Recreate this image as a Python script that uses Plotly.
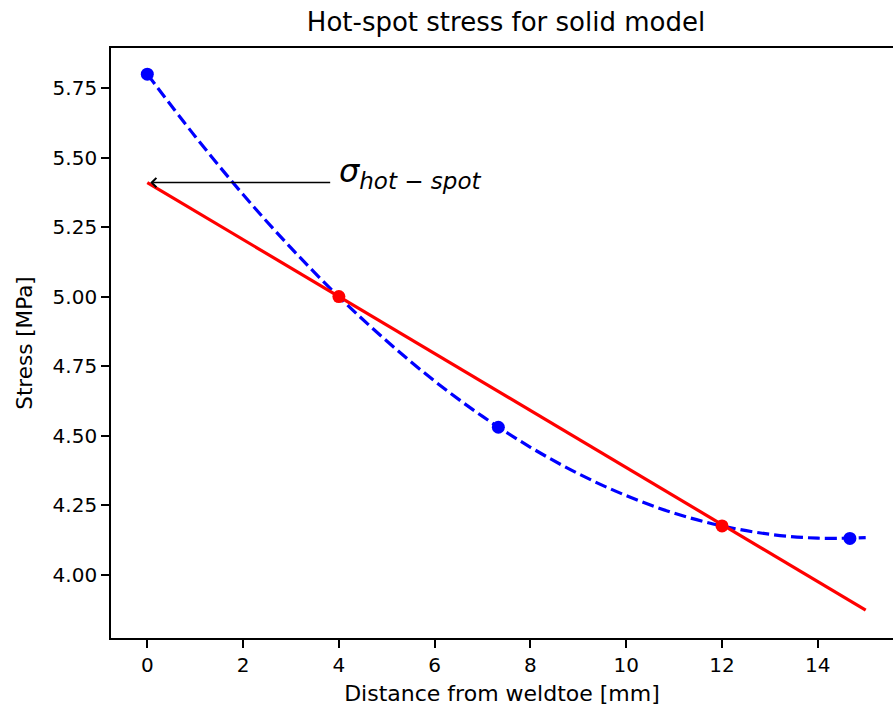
import plotly.graph_objects as go

# Measured stress points (blue) from the solid model
meas_x = [0.0, 7.33, 14.67]
meas_y = [5.80, 4.53, 4.13]

curve_x = [0, 1, 2, 3, 4, 5, 6, 7, 8, 9, 10, 11, 12, 13, 14, 15]
curve_y = [5.800, 5.576, 5.367, 5.175, 4.999, 4.840, 4.696, 4.569,
           4.458, 4.363, 4.284, 4.221, 4.175, 4.145, 4.131, 4.133]

# Reference (read-out) points at 0.4t and 1.0t (red)
ref_x = [4.0, 12.0]
ref_y = [5.00, 4.175]

# Linear extrapolation line
line_x = [0.0, 15.0]
line_y = [5.41, 3.8725]

hot_spot_x = 0.0
hot_spot_y = 5.41
label_x = 4.0

x_ticks = [0, 2, 4, 6, 8, 10, 12, 14]
y_ticks = [4.00, 4.25, 4.50, 4.75, 5.00, 5.25, 5.50, 5.75]

FONT = "DejaVu Sans"

fig = go.Figure()
fig.add_trace(go.Scatter(x=curve_x, y=curve_y, mode="lines",
                         line=dict(color="#0000ff", width=3.2, dash="12px,5px", shape="spline"),
                         showlegend=False, hoverinfo="skip"))
fig.add_trace(go.Scatter(x=meas_x, y=meas_y, mode="markers",
                         marker=dict(color="#0000ff", size=13), showlegend=False))
fig.add_trace(go.Scatter(x=line_x, y=line_y, mode="lines",
                         line=dict(color="#ff0000", width=3.2), showlegend=False))
fig.add_trace(go.Scatter(x=ref_x, y=ref_y, mode="markers",
                         marker=dict(color="#ff0000", size=13), showlegend=False))

# arrow
fig.add_annotation(x=hot_spot_x, y=hot_spot_y, ax=label_x - 0.15, ay=hot_spot_y,
                   xref="x", yref="y", axref="x", ayref="y",
                   text="", showarrow=True, arrowhead=4, arrowsize=1.2,
                   arrowwidth=1.5, arrowcolor="#000000", standoff=3)
# label
fig.add_annotation(x=label_x, y=hot_spot_y, xref="x", yref="y",
                   text="<i>σ<sub><span style='font-size:23px'>hot − spot</span></sub></i>",
                   showarrow=False,
                   xanchor="left", yanchor="middle", yshift=10, xshift=-2,
                   font=dict(family=FONT, size=32, color="#000000"))

fig.update_layout(
    width=893, height=713,
    margin=dict(l=111, r=0, t=48, b=75),
    paper_bgcolor="white", plot_bgcolor="white",
    font=dict(family=FONT, color="#000000", size=20),
    title=dict(text="Hot-spot stress for solid model", x=506 / 893, xref="container",
               xanchor="center", y=1 - 22 / 713, yanchor="middle",
               font=dict(family=FONT, size=26, color="#000000")),
)
fig.update_xaxes(range=[-0.758, 15.57], tickvals=x_ticks, ticktext=[str(v) for v in x_ticks],
                 showgrid=False, zeroline=False, showline=True, linecolor="#000000",
                 linewidth=1.75, mirror=True, ticks="outside", ticklen=8, tickwidth=1.75,
                 tickcolor="#000000", tickfont=dict(size=20),
                 title=dict(text="Distance from weldtoe [mm]", font=dict(size=22), standoff=10))
fig.update_yaxes(range=[3.772, 5.894], tickvals=y_ticks, ticktext=[f"{v:.2f}" for v in y_ticks],
                 showgrid=False, zeroline=False, showline=True, linecolor="#000000",
                 linewidth=1.75, mirror=False, ticks="outside", ticklen=8, tickwidth=1.75,
                 tickcolor="#000000", tickfont=dict(size=20),
                 title=dict(text="Stress [MPa]", font=dict(size=21.5), standoff=14))

fig.write_html("out.html")
